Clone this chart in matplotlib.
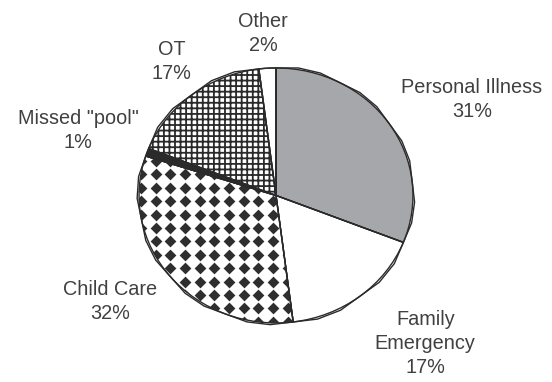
import numpy as np
import matplotlib
matplotlib.use("Agg")
import matplotlib.pyplot as plt

# absence reasons, clockwise from 12 o'clock
reasons = ["Personal Illness", "Family\nEmergency", "Child Care",
           "Missed \"pool\"", "OT", "Other"]
shares = [31, 17, 32, 1, 17, 2]

# label anchor positions (pie radius = 1)
label_pos = [(1.43, 0.75), (1.09, -1.16), (-1.21, -0.83),
             (-1.445, 0.51), (-0.76, 1.05), (-0.095, 1.27)]

plt.rcParams["font.family"] = ["Liberation Sans", "DejaVu Sans"]
plt.rcParams["hatch.linewidth"] = 1.3
plt.rcParams["hatch.color"] = "#2a2a2a"

fig = plt.figure(figsize=(5.52, 3.82), dpi=100)
ax = fig.add_axes([0, 0, 1, 1])

faces = ["#a5a7ab", "white", "white", "#2a2a2a", "white", "white"]
hatches = [None, None, None, None, "+++", None]

wedges, _ = ax.pie(shares, startangle=90, counterclock=False,
                   colors=faces, radius=1.0,
                   wedgeprops=dict(edgecolor="#2a2a2a", linewidth=1.0))
for w, h in zip(wedges, hatches):
    if h:
        w.set_hatch(h)

ax.set_aspect("auto")
ax.set_xlim(-2.015, 2.015)
ax.set_ylim(-1.463, 1.533)
ax.axis("off")

# diamond pattern for the child care slice
gx, gy = np.meshgrid(np.arange(-1.2, 1.2, 0.107), np.arange(-1.2, 1.2, 0.105))
dots = ax.scatter(gx.ravel(), gy.ravel(), marker="D", s=36,
                  color="#2e2e2e", linewidths=0, zorder=3)
dots.set_clip_path(wedges[2])

# redraw outlines on top of the pattern
for w in wedges:
    ax.add_patch(plt.Polygon(w.get_path().vertices, closed=True, fill=False,
                             edgecolor="#2a2a2a", linewidth=1.0, zorder=4,
                             transform=w.get_transform()))

for name, pct, (x, y) in zip(reasons, shares, label_pos):
    ax.text(x, y, f"{name}\n{pct}%", ha="center", va="center",
            fontsize=14.3, color="#404040", linespacing=1.35)

fig.savefig("out.png", dpi=100)
